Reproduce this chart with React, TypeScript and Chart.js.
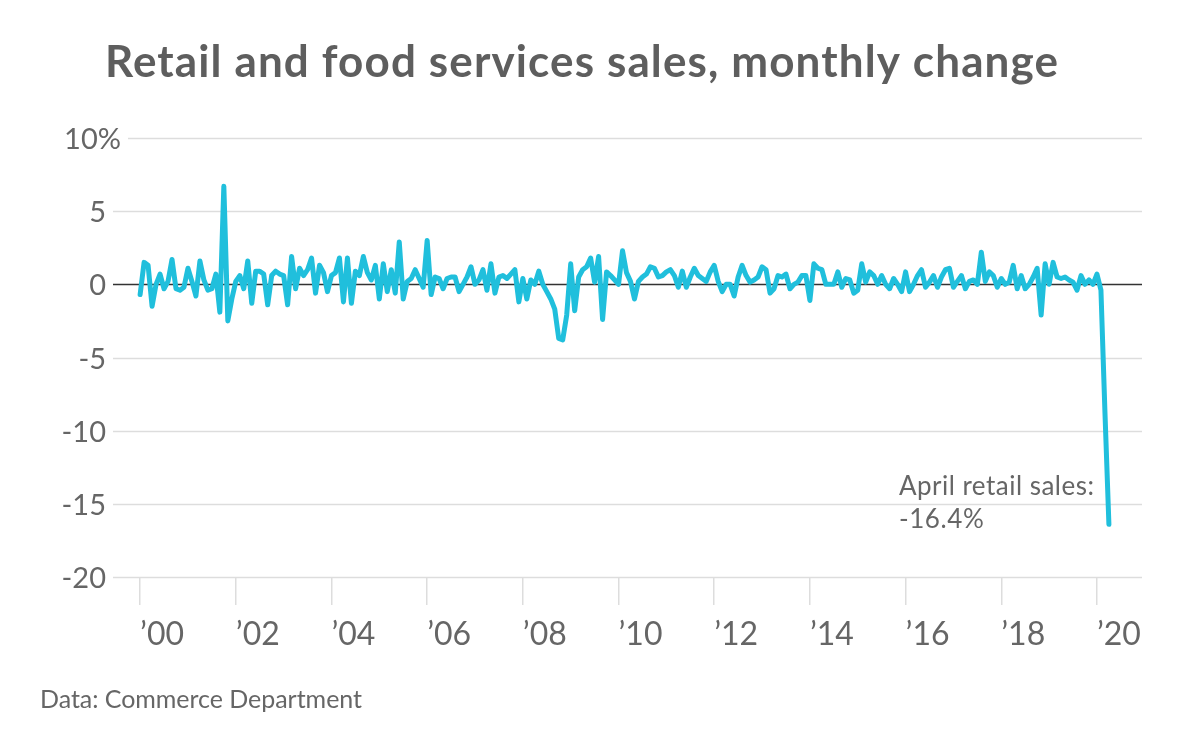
import React, { useEffect, useRef } from "react";
import { Chart, registerables } from "chart.js";

Chart.register(...registerables);

// Monthly % change, retail and food services sales (Jan 2000 – Apr 2020)
const y2000 = [-0.7, 1.5, 1.3, -1.5, 0.0, 0.7, -0.3, 0.2, 1.7, -0.3, -0.4, -0.2];
const y2001 = [1.1, 0.2, -0.8, 1.6, 0.3, -0.4, -0.3, 0.7, -1.9, 6.7, -2.5, -1.0];
const y2002 = [0.2, 0.6, -0.3, 1.6, -1.3, 0.9, 0.9, 0.7, -1.4, 0.6, 0.9, 0.7];
const y2003 = [0.6, -1.4, 1.9, -0.3, 1.1, 0.6, 1.0, 1.8, -0.6, 1.3, 0.8, -0.5];
const y2004 = [0.6, 0.8, 1.8, -1.2, 1.8, -1.3, 0.9, 0.6, 1.9, 0.8, 0.3, 1.3];
const y2005 = [-1.0, 1.4, -0.5, 1.0, -0.6, 2.9, -1.0, 0.2, 0.4, 1.0, 0.4, -0.2];
const y2006 = [3.0, -0.7, 0.5, 0.4, -0.3, 0.4, 0.5, 0.5, -0.5, 0.0, 0.5, 1.2];
const y2007 = [0.0, 0.3, 1.0, -0.4, 1.4, -0.6, 0.5, 0.6, 0.4, 0.7, 1.0, -1.2];
const y2008 = [0.4, -1.0, 0.3, 0.0, 0.9, 0.0, -0.5, -1.0, -1.7, -3.7, -3.8, -2.1];
const y2009 = [1.4, -1.8, 0.5, 1.0, 1.2, 1.8, 0.15, 1.9, -2.4, 0.85, 0.6, 0.3];
const y2010 = [0.0, 2.3, 0.8, 0.2, -1.0, 0.2, 0.5, 0.7, 1.2, 1.1, 0.5, 0.6];
const y2011 = [0.85, 1.0, 0.6, -0.2, 0.9, -0.2, 0.5, 1.1, 0.6, 0.4, 0.2, 0.85];
const y2012 = [1.3, 0.2, -0.5, 0.0, 0.0, -0.8, 0.5, 1.3, 0.6, 0.15, 0.3, 0.5];
const y2013 = [1.2, 1.0, -0.6, -0.3, 0.6, 0.5, 0.7, -0.3, 0.0, 0.15, 0.6, 0.6];
const y2014 = [-1.1, 1.4, 1.1, 1.0, 0.0, 0.0, 0.0, 0.85, -0.2, 0.4, 0.3, -0.6];
const y2015 = [-0.4, 1.4, 0.15, 0.85, 0.6, 0.0, 0.6, 0.0, -0.3, 0.4, 0.0, -0.5];
const y2016 = [0.85, -0.5, 0.0, 0.6, 1.0, -0.2, 0.15, 0.6, -0.2, 0.5, 1.0, 1.1];
const y2017 = [-0.2, 0.2, 0.6, -0.3, 0.2, 0.3, 0.0, 2.2, 0.2, 0.85, 0.6, -0.2];
const y2018 = [0.4, 0.0, 0.15, 1.3, -0.3, 0.6, -0.3, 0.0, 0.5, 1.1, -2.1, 1.4];
const y2019 = [0.0, 1.5, 0.5, 0.4, 0.5, 0.3, 0.15, -0.4, 0.6, 0.0, 0.3, 0.0];
const y2020 = [0.7, -0.4, -8.7, -16.4];

const yearSeries = [
  y2000, y2001, y2002, y2003, y2004, y2005, y2006, y2007, y2008, y2009, y2010,
  y2011, y2012, y2013, y2014, y2015, y2016, y2017, y2018, y2019, y2020,
];
const startYear = 2000;
const yTickValues = [10, 5, 0, -5, -10, -15, -20];
const xTickYears = [2000, 2002, 2004, 2006, 2008, 2010, 2012, 2014, 2016, 2018, 2020];

const titleText = "Retail and food services sales, monthly change";
const sourceText = "Data: Commerce Department";
const noteLines = ["April retail sales:", "-16.4%"];

const FONT = "Lato, 'Noto Sans', sans-serif";
const LINE_COLOR = "#20bfdc";
const TEXT_COLOR = "#666666";
const TITLE_COLOR = "#5e5e5e";

const monthly = yearSeries.flat();
const points = monthly.map((v, i) => ({ x: i, y: v }));

// draw text stretched (via letter spacing) to a target width
function fitText(ctx: any, text: string, x: number, y: number, target: number) {
  ctx.letterSpacing = "0px";
  const w = ctx.measureText(text).width;
  const n = Math.max(text.length - 1, 1);
  const sp = (target - w) / n;
  ctx.letterSpacing = `${sp}px`;
  ctx.fillText(text, x, y);
  ctx.letterSpacing = "0px";
}

const decorPlugin = {
  id: "decor",
  beforeDatasetsDraw(chart: any) {
    const { ctx, chartArea, scales } = chart;
    const ys = scales.y;
    ctx.save();
    ctx.font = `400 29px ${FONT}`;
    ctx.textAlign = "right";
    ctx.textBaseline = "middle";
    yTickValues.forEach((v, i) => {
      const py = Math.round(ys.getPixelForValue(v)) + 0.5;
      const label = i === 0 ? `${v}%` : String(v);
      const start = i === 0 ? chartArea.left + 15 : chartArea.left;
      if (v !== 0) {
        ctx.strokeStyle = "#dddddd";
        ctx.lineWidth = 1.5;
        ctx.beginPath();
        ctx.moveTo(start, py);
        ctx.lineTo(chartArea.right, py);
        ctx.stroke();
      }
      ctx.fillStyle = TEXT_COLOR;
      ctx.fillText(label, start - 7, py + 1);
    });
    const zy = Math.round(ys.getPixelForValue(0)) + 0.5;
    ctx.strokeStyle = "#333333";
    ctx.lineWidth = 1.5;
    ctx.beginPath();
    ctx.moveTo(chartArea.left, zy);
    ctx.lineTo(chartArea.right, zy);
    ctx.stroke();
    ctx.restore();
  },
  afterDraw(chart: any) {
    const { ctx, scales } = chart;
    ctx.save();
    ctx.textAlign = "left";
    ctx.textBaseline = "alphabetic";
    // title
    ctx.fillStyle = TITLE_COLOR;
    ctx.font = `700 44px ${FONT}`;
    fitText(ctx, titleText, 105, 77, 953);
    // source
    ctx.fillStyle = TEXT_COLOR;
    ctx.font = `400 25px ${FONT}`;
    fitText(ctx, sourceText, 40, 708, 322);
    // annotation next to last point
    const lastIdx = points.length - 1;
    const lx = scales.x.getPixelForValue(points[lastIdx].x);
    const ly = scales.y.getPixelForValue(points[lastIdx].y);
    ctx.font = `400 26px ${FONT}`;
    const target = 195;
    const left = lx - 15 - target;
    fitText(ctx, noteLines[0], left, ly - 29, target);
    ctx.letterSpacing = "0.6px";
    ctx.fillText(noteLines[1], left, ly + 4);
    ctx.restore();
  },
};

export default function App() {
  const canvasRef = useRef<HTMLCanvasElement | null>(null);

  useEffect(() => {
    document.body.style.margin = "0";
    const canvas = canvasRef.current;
    if (!canvas) return;
    const chart = new Chart(canvas, {
      type: "line",
      data: {
        datasets: [
          {
            data: points,
            borderColor: LINE_COLOR,
            borderWidth: 5,
            pointRadius: 0,
            tension: 0,
            borderJoinStyle: "round",
            borderCapStyle: "round",
            fill: false,
          },
        ],
      },
      options: {
        responsive: false,
        animation: false,
        devicePixelRatio: 1,
        layout: { padding: { top: 138, right: 58, left: 0, bottom: 0 } },
        plugins: {
          legend: { display: false },
          tooltip: { enabled: false },
          title: { display: false },
        },
        scales: {
          x: {
            type: "linear",
            min: -6.8,
            max: 251.3,
            afterBuildTicks: (s: any) => {
              s.ticks = xTickYears.map((y) => ({ value: (y - startYear) * 12 }));
            },
            afterFit: (s: any) => {
              s.height = 158;
              s.paddingLeft = 0;
              s.paddingRight = 0;
            },
            ticks: {
              align: "start",
              autoSkip: false,
              maxRotation: 0,
              padding: 10,
              color: TEXT_COLOR,
              font: { family: FONT, size: 32 },
              callback: (v: any) =>
                "\u2019" + String((startYear + Math.round(Number(v) / 12)) % 100).padStart(2, "0"),
            },
            grid: {
              drawOnChartArea: false,
              drawTicks: true,
              tickLength: 28,
              color: "#dddddd",
              lineWidth: 1.5,
            },
            border: { display: false },
          },
          y: {
            min: -20,
            max: 10,
            afterBuildTicks: (s: any) => {
              s.ticks = yTickValues.map((v) => ({ value: v }));
            },
            afterFit: (s: any) => {
              s.width = 113;
            },
            ticks: { display: false },
            grid: { display: false },
            border: { display: false },
          },
        },
      } as any,
      plugins: [decorPlugin],
    });
    return () => chart.destroy();
  }, []);

  return (
    <div style={{ width: 1200, height: 735, background: "#ffffff" }}>
      <canvas ref={canvasRef} width={1200} height={735} style={{ display: "block" }} />
    </div>
  );
}
